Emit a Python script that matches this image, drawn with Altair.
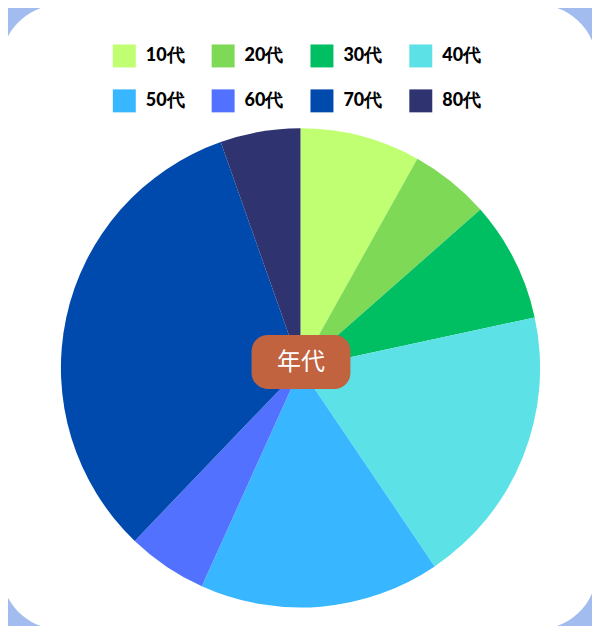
import altair as alt
import pandas as pd

categories = ["10代", "20代", "30代", "40代", "50代", "60代", "70代", "80代"]
counts = [3, 2, 3, 7, 6, 2, 12, 2]
colors = ["#c1ff72", "#7ed957", "#00bf63", "#5ce1e6", "#38b6ff", "#5271ff", "#004aad", "#2f3470"]
center_label = ["年代"]

df = pd.DataFrame({"cat": categories, "n": counts, "ord": list(range(len(categories)))})

bg = alt.Chart(pd.DataFrame({"a": [0]})).mark_rect(
    color="white", cornerRadius=60
).encode(
    x=alt.value(-8), x2=alt.value(589), y=alt.value(-124), y2=alt.value(502)
)

pie = alt.Chart(df).mark_arc(outerRadius=240, strokeWidth=0).encode(
    theta=alt.Theta("n:Q", stack=True),
    order=alt.Order("ord:Q"),
    color=alt.Color(
        "cat:N",
        scale=alt.Scale(domain=categories, range=colors),
        legend=alt.Legend(
            title=None,
            orient="none",
            direction="horizontal",
            legendX=104,
            legendY=-84,
            columns=4,
            symbolType="square",
            symbolSize=529,
            symbolStrokeWidth=0,
            symbolOpacity=1,
            labelFont="Lato",
            labelFontWeight=900,
            labelFontSize=18,
            labelColor="#000000",
            labelOffset=10,
            columnPadding=27,
            rowPadding=22,
            padding=0,
        ),
    ),
)

lab = pd.DataFrame({"t": center_label})
box = alt.Chart(lab).mark_rect(color="#c1633f", cornerRadius=16).encode(
    x=alt.value(243), x2=alt.value(342), y=alt.value(207), y2=alt.value(261)
)
txt = alt.Chart(lab).mark_text(
    color="white", fontSize=24, font="Noto Sans CJK JP", baseline="middle", align="center"
).encode(x=alt.value(292.5), y=alt.value(235), text="t:N")

chart = alt.layer(bg, pie, box, txt).properties(
    width=584,
    height=480,
    background="#a3bcef",
    padding={"left": 1, "top": 120, "right": 0, "bottom": 18},
    autosize=alt.AutoSizeParams(type="none"),
).configure_view(stroke=None)

chart.save("out.html", embed_options={"renderer": "svg", "actions": False})
